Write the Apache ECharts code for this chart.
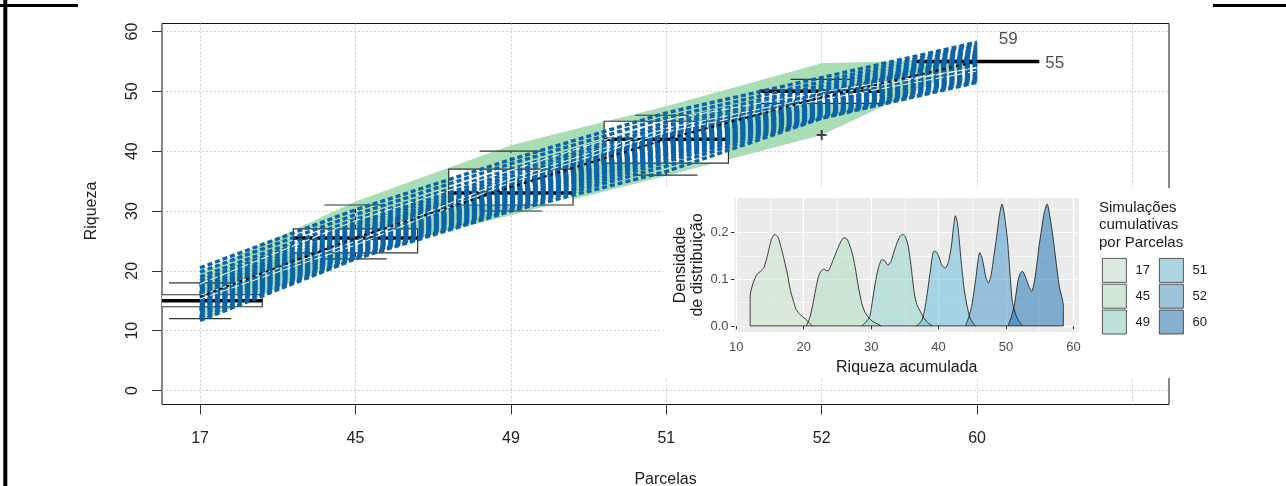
<!DOCTYPE html>
<html><head><meta charset="utf-8">
<script src="https://cdn.jsdelivr.net/npm/echarts@6/dist/echarts.min.js"></script>
<style>html,body{margin:0;padding:0;background:#fff}#c{width:1286px;height:486px}</style>
</head><body><div id="c"></div>
<script>
// ---------- main plot data ----------
const parcelas = ['17', '45', '49', '51', '52', '60'];
const gridPositions = [1, 2, 3, 4, 5, 6, 7];
const boxLow  = [12, 22, 30, 36, 48, 55];
const boxQ1   = [14, 23, 31, 38, 48, 55];
const boxMed  = [15, 25.5, 33, 42, 50, 55];
const boxQ3   = [16, 27, 37, 45, 50, 55];
const boxHigh = [18, 31, 40, 46, 52, 55];
const outliers = [[5, 42.7]];
const bandUpper = [19.6, 31.6, 41.0, 47.5, 54.7, 55.4];
const bandLower = [11.5, 22.9, 29.3, 35.9, 42.7, 54.8];
const meanCurve = [15.7, 25.5, 34.0, 42.0, 49.0, 55.0];
const simCurves = [
  [20.5, 30.2, 38.6, 46.4, 52.3, 58.2],
  [19.8, 29.4, 37.9, 45.6, 51.6, 57.9],
  [19.0, 28.6, 37.0, 44.8, 51.0, 57.6],
  [18.4, 28.0, 36.4, 44.2, 50.5, 57.2],
  [17.9, 27.6, 35.8, 43.6, 50.0, 56.9],
  [17.4, 27.1, 35.3, 43.1, 49.7, 56.6],
  [17.0, 26.7, 35.0, 42.8, 49.5, 56.3],
  [16.6, 26.4, 34.7, 42.5, 49.3, 56.1],
  [16.3, 26.1, 34.5, 42.6, 49.4, 55.9],
  [16.0, 25.8, 34.2, 42.2, 49.1, 55.6],
  [15.8, 25.6, 34.0, 42.0, 48.9, 55.4],
  [15.6, 25.4, 33.8, 41.7, 48.7, 55.2],
  [15.4, 25.1, 33.5, 41.4, 48.4, 55.0],
  [15.2, 24.8, 33.2, 41.1, 48.1, 54.7],
  [15.0, 24.5, 32.9, 40.8, 47.8, 54.4],
  [14.7, 24.2, 32.6, 40.5, 47.5, 54.1],
  [14.4, 23.9, 32.3, 40.2, 47.2, 53.8],
  [14.1, 23.6, 32.0, 39.8, 46.9, 53.4],
  [13.8, 23.3, 31.7, 39.5, 46.6, 53.1],
  [13.5, 23.0, 31.4, 39.2, 46.3, 52.8],
  [13.1, 22.7, 31.0, 38.7, 46.0, 52.5],
  [12.7, 22.4, 30.6, 38.2, 45.8, 52.2],
  [12.2, 22.2, 30.3, 37.5, 45.6, 51.8],
  [11.7, 22.0, 30.0, 36.6, 45.5, 51.5]
];
const whiteCurves = [
  [15.9, 24.9, 35.4, 43.8, 49.2, 54.0],
  [15.3, 24.3, 34.8, 43.2, 48.6, 53.4],
  [17.8, 28.4, 36.8, 45.2, 49.9, 53.9]
];
const annotations = [[6.2, 59, '59'], [6.5, 55, '55']];

// ---------- inset (density) data ----------
const densTicksX = [10, 20, 30, 40, 50, 60];
const densMinorX = [15, 25, 35, 45, 55];
const densTicksY = [0, 0.1, 0.2];
const densMinorY = [0.05, 0.15, 0.25];
const dens17 = [[12.06,0],[12.06,0.063],[12.5,0.092],[13.1,0.111],[13.6,0.117],[14.1,0.125],[14.7,0.155],[15.2,0.185],[15.7,0.196],[16.2,0.19],[16.7,0.165],[17.1,0.142],[17.6,0.11],[18.0,0.078],[18.5,0.052],[18.9,0.035],[19.5,0.024],[20.1,0.017],[20.7,0.008],[21.3,0]];
const dens45 = [[20.4,0],[20.9,0.018],[21.3,0.042],[21.8,0.08],[22.2,0.106],[22.6,0.118],[23.0,0.122],[23.4,0.118],[23.7,0.119],[24.2,0.135],[24.6,0.150],[25.1,0.168],[25.6,0.183],[26.0,0.189],[26.4,0.186],[26.7,0.178],[27.2,0.155],[27.6,0.128],[28.1,0.085],[28.6,0.049],[29.0,0.032],[29.5,0.020],[30.1,0.011],[30.7,0.006],[31.5,0]];
const dens49 = [[28.6,0],[29.2,0.008],[29.8,0.02],[30.2,0.055],[30.7,0.099],[31.1,0.125],[31.6,0.142],[32.0,0.14],[32.5,0.13],[33.0,0.14],[33.4,0.16],[33.9,0.18],[34.3,0.192],[34.7,0.196],[35.1,0.19],[35.5,0.171],[35.9,0.13],[36.4,0.07],[36.8,0.045],[37.3,0.031],[37.9,0.015],[38.5,0.006],[39.1,0]];
const dens51 = [[36.7,0],[37.2,0.006],[37.6,0.015],[38.0,0.04],[38.4,0.078],[38.8,0.12],[39.3,0.16],[39.7,0.158],[40.0,0.15],[40.5,0.13],[41.0,0.124],[41.5,0.14],[41.9,0.171],[42.2,0.21],[42.5,0.236],[42.8,0.22],[43.1,0.178],[43.4,0.13],[43.8,0.078],[44.2,0.045],[44.6,0.02],[45.0,0.008],[45.5,0]];
const dens52 = [[44.0,0],[44.5,0.02],[44.9,0.042],[45.2,0.07],[45.5,0.099],[45.8,0.135],[46.1,0.157],[46.4,0.148],[46.7,0.128],[47.0,0.105],[47.4,0.092],[47.8,0.11],[48.2,0.15],[48.6,0.19],[49.0,0.235],[49.4,0.261],[49.8,0.235],[50.2,0.186],[50.5,0.13],[50.9,0.056],[51.3,0.03],[51.8,0.013],[52.4,0]];
const dens60 = [[50.3,0],[50.8,0.02],[51.2,0.042],[51.5,0.07],[51.8,0.099],[52.1,0.112],[52.4,0.117],[52.7,0.112],[53.0,0.1],[53.4,0.085],[53.8,0.074],[54.2,0.095],[54.6,0.135],[54.9,0.171],[55.3,0.21],[55.7,0.245],[56.1,0.261],[56.5,0.235],[57.0,0.186],[57.4,0.14],[57.9,0.085],[58.5,0.042],[58.5,0]];
const densSeries = [dens17, dens45, dens49, dens51, dens52, dens60];
const densFill = ['rgba(204,229,206,0.55)','rgba(178,222,192,0.55)','rgba(150,214,204,0.55)','rgba(110,192,216,0.55)','rgba(80,156,202,0.55)','rgba(38,118,178,0.55)'];
const keyFill = ['#dde9de', '#d0e6d7', '#bfe1dc', '#acd5e1', '#9cc3da', '#87b0cf'];

// ---------- layout ----------
const FONT = '"Liberation Sans", Arial, sans-serif';
const MAIN_LEFT = 162, MAIN_W = 1007;
const XMIN = 0.755, XMAX = 7.235;
const INSET = {left: 734.5, top: 198, width: 344.5, height: 134};

const chart = echarts.init(document.getElementById('c'), null, {renderer: 'canvas'});

function boxItem(params, api) {
  const i = api.value(0);
  const c = v => api.coord([i, v]);
  const pL = c(api.value(1)), pQ1 = c(api.value(2)), pM = c(api.value(3)), pQ3 = c(api.value(4)), pH = c(api.value(5));
  const half = api.size([0.4, 0])[0];
  const cap = api.size([0.2, 0])[0];
  const x = pM[0];
  return {type: 'group', children: [
    {type: 'line', shape: {x1: x, y1: pQ3[1], x2: x, y2: pH[1]}, style: {stroke: '#000', lineWidth: 1, lineDash: [4, 4]}},
    {type: 'line', shape: {x1: x, y1: pQ1[1], x2: x, y2: pL[1]}, style: {stroke: '#000', lineWidth: 1, lineDash: [4, 4]}},
    {type: 'line', shape: {x1: x - cap, y1: pH[1], x2: x + cap, y2: pH[1]}, style: {stroke: '#333', lineWidth: 1.2}},
    {type: 'line', shape: {x1: x - cap, y1: pL[1], x2: x + cap, y2: pL[1]}, style: {stroke: '#333', lineWidth: 1.2}},
    {type: 'rect', shape: {x: x - half, y: pQ3[1], width: 2 * half, height: pQ1[1] - pQ3[1]}, style: {fill: '#fff', stroke: '#333', lineWidth: 1.2}},
    {type: 'line', shape: {x1: x - half, y1: pM[1], x2: x + half, y2: pM[1]}, style: {stroke: '#000', lineWidth: 3.5}}
  ]};
}

function curveItem(color, width, dash) {
  return function (params, api) {
    const pts = [];
    for (let k = 0; k < parcelas.length; k++) pts.push(api.coord([k + 1, api.value(k)]));
    return {type: 'polyline', shape: {points: pts}, style: {stroke: color, lineWidth: width, lineDash: dash, fill: null}};
  };
}

const mainSeries = [
  {
    name: 'banda', type: 'custom', xAxisIndex: 1, yAxisIndex: 1, z: 2, clip: true, silent: true,
    data: [[1, bandUpper[0]]],
    renderItem: function (params, api) {
      const pts = [];
      bandUpper.forEach((v, k) => pts.push(api.coord([k + 1, v])));
      for (let k = bandLower.length - 1; k >= 0; k--) pts.push(api.coord([k + 1, bandLower[k]]));
      return {type: 'polygon', shape: {points: pts}, style: {fill: '#A8DDB5'}};
    }
  },
  {
    name: 'boxes', type: 'custom', xAxisIndex: 1, yAxisIndex: 1, z: 3, clip: true, silent: true,
    data: parcelas.map((p, k) => [k + 1, boxLow[k], boxQ1[k], boxMed[k], boxQ3[k], boxHigh[k]]),
    renderItem: boxItem
  },
  {
    name: 'sims', type: 'custom', xAxisIndex: 1, yAxisIndex: 1, z: 4, clip: true, silent: true,
    data: simCurves, renderItem: curveItem('#0B64A8', 3.4, [5, 3])
  },
  {
    name: 'white', type: 'custom', xAxisIndex: 1, yAxisIndex: 1, z: 5, clip: true, silent: true,
    data: whiteCurves, renderItem: curveItem('#ffffff', 1, [8, 3])
  },
  {
    name: 'media', type: 'line', xAxisIndex: 1, yAxisIndex: 1, z: 6, symbol: 'none', silent: true,
    data: meanCurve.map((v, k) => [k + 1, v]),
    lineStyle: {color: '#000', width: 2, type: [3, 4]}
  },
  {
    name: 'outlier', type: 'scatter', xAxisIndex: 1, yAxisIndex: 1, z: 7, silent: true,
    data: outliers, symbol: 'path://M4,0H6V4H10V6H6V10H4V6H0V4H4Z', symbolSize: 10,
    itemStyle: {color: '#24101f'}
  },
  {
    name: 'annot', type: 'scatter', xAxisIndex: 1, yAxisIndex: 1, z: 7, silent: true,
    data: annotations, symbolSize: 0,
    label: {show: true, position: 'inside', offset: [0, 2], formatter: p => p.data[2], fontSize: 17, color: '#222', fontFamily: FONT}
  }
];

const insetSeries = densSeries.map((d, k) => ({
  name: parcelas[k], type: 'line', xAxisIndex: 2, yAxisIndex: 2, z: 60, symbol: 'none', silent: true,
  smooth: 0.25, data: d,
  itemStyle: {color: keyFill[k]},
  lineStyle: {color: '#111', width: 0.8},
  areaStyle: {color: densFill[k], opacity: 1}
}));
insetSeries.push({
  name: 'base', type: 'line', xAxisIndex: 2, yAxisIndex: 2, z: 61, symbol: 'none', silent: true,
  data: [[dens17[0][0], 0], [dens60[dens60.length - 1][0], 0]],
  lineStyle: {color: '#111', width: 0.8}
});

const dotted = {color: '#cfcfcf', width: 1, type: [2, 2]};
const option = {
  animation: false,
  backgroundColor: '#fff',
  textStyle: {fontFamily: FONT},
  title: {
    text: 'Simulações\ncumulativas\npor Parcelas', left: 1099, top: 199, z: 70, padding: 0,
    textStyle: {fontSize: 15, fontWeight: 'normal', lineHeight: 17.5, color: '#1a1a1a', fontFamily: FONT}
  },
  legend: [
    {data: parcelas.slice(0, 3).map((n, k) => ({name: n, itemStyle: {color: keyFill[k], borderColor: '#333', borderWidth: 0.8}})),
     left: 1102, top: 258, padding: 0, orient: 'vertical', itemWidth: 24, itemHeight: 24, itemGap: 1, icon: 'rect', z: 70,
     textStyle: {fontSize: 13, color: '#1a1a1a', padding: [0, 0, 0, 4]}, selectedMode: false},
    {data: parcelas.slice(3).map((n, k) => ({name: n, itemStyle: {color: keyFill[k + 3], borderColor: '#333', borderWidth: 0.8}})),
     left: 1159, top: 258, padding: 0, orient: 'vertical', itemWidth: 24, itemHeight: 24, itemGap: 1, icon: 'rect', z: 70,
     textStyle: {fontSize: 13, color: '#1a1a1a', padding: [0, 0, 0, 4]}, selectedMode: false}
  ],
  grid: [
    {left: MAIN_LEFT, top: 23.5, width: MAIN_W, height: 381, show: true, borderColor: '#111', borderWidth: 1, backgroundColor: 'transparent', outerBoundsMode: 'none', containLabel: false},
    {left: MAIN_LEFT, top: 31.5, width: MAIN_W, height: 359, outerBoundsMode: 'none', containLabel: false},
    {left: INSET.left, top: INSET.top, width: INSET.width, height: INSET.height, outerBoundsMode: 'none', containLabel: false}
  ],
  xAxis: [
    {gridIndex: 0, type: 'value', min: XMIN, max: XMAX, name: 'Parcelas', nameLocation: 'middle', nameGap: 67,
     nameTextStyle: {fontSize: 16, color: '#222'},
     axisLine: {show: false},
     axisTick: {show: true, length: 10, customValues: [1, 2, 3, 4, 5, 6], lineStyle: {color: '#333'}},
     axisLabel: {customValues: [1, 2, 3, 4, 5, 6], formatter: v => parcelas[Math.round(v) - 1], fontSize: 16, color: '#222', margin: 26},
     splitLine: {show: false}},
    {gridIndex: 1, type: 'value', min: XMIN, max: XMAX, show: false},
    {gridIndex: 2, type: 'value', min: 9.74, max: 60.82, z: 55,
     name: 'Riqueza acumulada', nameLocation: 'middle', nameGap: 28, nameTextStyle: {fontSize: 16, color: '#1a1a1a'},
     axisLine: {show: false},
     axisTick: {show: true, length: 3.5, customValues: densTicksX, lineStyle: {color: '#333'}},
     axisLabel: {customValues: densTicksX, fontSize: 13, color: '#4d4d4d', margin: 9},
     splitLine: {show: true, lineStyle: {color: '#fff', width: 1.2}}},
    {gridIndex: 0, type: 'value', min: XMIN, max: XMAX, position: 'bottom',
     axisLine: {show: false}, axisLabel: {show: false},
     axisTick: {show: false, customValues: gridPositions},
     splitLine: {show: true, lineStyle: dotted}},
    {gridIndex: 2, type: 'value', min: 9.74, max: 60.82, z: 55, position: 'bottom',
     axisLine: {show: false}, axisLabel: {show: false},
     axisTick: {show: false, customValues: densMinorX},
     splitLine: {show: true, lineStyle: {color: '#fff', width: 0.6}}}
  ],
  yAxis: [
    {gridIndex: 0, type: 'value', min: 0, max: 1, show: false},
    {gridIndex: 1, type: 'value', min: 0, max: 60, interval: 10,
     name: 'Riqueza', nameLocation: 'middle', nameGap: 62, nameTextStyle: {fontSize: 16, color: '#222'},
     axisLine: {show: false},
     axisTick: {show: true, length: 10, lineStyle: {color: '#333'}},
     axisLabel: {rotate: 90, fontSize: 16, color: '#222', margin: 21},
     splitLine: {show: true, lineStyle: dotted}},
    {gridIndex: 2, type: 'value', min: -0.013, max: 0.274, z: 55,
     name: 'Densidade\nde distribuição', nameLocation: 'middle', nameGap: 28,
     nameTextStyle: {fontSize: 16, color: '#1a1a1a', lineHeight: 17},
     axisLine: {show: false},
     axisTick: {show: true, length: 3.5, customValues: densTicksY, lineStyle: {color: '#333'}},
     axisLabel: {customValues: densTicksY, formatter: v => v.toFixed(1), fontSize: 13, color: '#4d4d4d', margin: 6},
     splitLine: {show: true, lineStyle: {color: '#fff', width: 1.2}}},
    {gridIndex: 2, type: 'value', min: -0.013, max: 0.274, z: 55, position: 'left',
     axisLine: {show: false}, axisLabel: {show: false},
     axisTick: {show: false, customValues: densMinorY},
     splitLine: {show: true, lineStyle: {color: '#fff', width: 0.6}}}
  ],
  graphic: [
    {type: 'rect', z: 50, silent: true, shape: {x: 663, y: 188, width: 623, height: 190}, style: {fill: '#fff'}},
    {type: 'rect', z: 51, silent: true, shape: {x: INSET.left, y: INSET.top, width: INSET.width, height: INSET.height}, style: {fill: '#EBEBEB'}},
    {type: 'line', z: 80, silent: true, shape: {x1: 5.3, y1: 0, x2: 5.3, y2: 486}, style: {stroke: '#000', lineWidth: 4}},
    {type: 'line', z: 80, silent: true, shape: {x1: 0, y1: 5.5, x2: 78, y2: 5.5}, style: {stroke: '#000', lineWidth: 3}},
    {type: 'line', z: 80, silent: true, shape: {x1: 1213, y1: 5.5, x2: 1286, y2: 5.5}, style: {stroke: '#000', lineWidth: 3}}
  ],
  series: mainSeries.concat(insetSeries)
};
chart.setOption(option);
</script>
</body></html>
